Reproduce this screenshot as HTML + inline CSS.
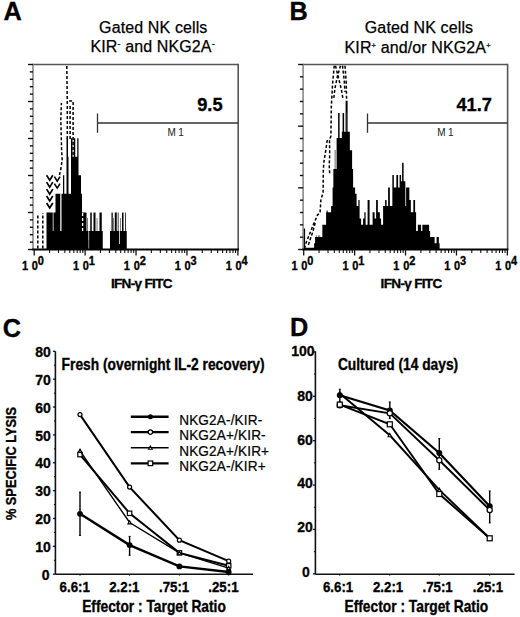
<!DOCTYPE html>
<html><head><meta charset="utf-8"><style>html,body{margin:0;padding:0;background:#fff;}svg{display:block;}text{font-family:"Liberation Sans",sans-serif;}</style></head>
<body><svg width="520" height="617" viewBox="0 0 520 617" font-family="Liberation Sans, sans-serif"><text x="3.6" y="19.9" font-size="25.3" font-weight="bold" stroke="#000" stroke-width="0.3">A</text>
<text x="289.5" y="19.9" font-size="25.3" font-weight="bold" stroke="#000" stroke-width="0.3">B</text>
<text x="2.8" y="336.6" font-size="25.3" font-weight="bold" stroke="#000" stroke-width="0.3">C</text>
<text x="290" y="335.7" font-size="25.3" font-weight="bold" stroke="#000" stroke-width="0.3">D</text>
<text x="153.3" y="32.8" font-size="16" text-anchor="middle" stroke="#000" stroke-width="0.25" letter-spacing="0.12">Gated NK cells</text>
<text x="152.6" y="52.1" font-size="16" text-anchor="middle" stroke="#000" stroke-width="0.25" letter-spacing="0.12">KIR<tspan dy="-5.5" font-size="9">-</tspan><tspan dy="5.5"> and NKG2A</tspan><tspan dy="-5.5" font-size="9">-</tspan></text>
<text x="419.0" y="33.1" font-size="16" text-anchor="middle" stroke="#000" stroke-width="0.25" letter-spacing="0.12">Gated NK cells</text>
<text x="417.6" y="52.7" font-size="16" text-anchor="middle" stroke="#000" stroke-width="0.25" letter-spacing="0.12">KIR<tspan dy="-5" font-size="7.5">+</tspan><tspan dy="5"> and/or NKG2A</tspan><tspan dy="-5" font-size="7.5">+</tspan></text>
<path d="M46.50,249.5 L46.50,249.50 L46.50,212.40 L52.75,212.40 L52.75,230.95 L53.50,230.95 L53.50,212.40 L55.50,212.40 L55.50,193.85 L60.25,193.85 L60.25,230.95 L61.50,230.95 L61.50,193.85 L63.00,193.85 L63.00,175.30 L64.25,175.30 L64.25,193.85 L66.50,193.85 L66.50,138.20 L68.00,138.20 L68.00,156.75 L68.50,156.75 L68.50,193.85 L71.00,193.85 L71.00,138.20 L72.50,138.20 L72.50,156.75 L73.75,156.75 L73.75,138.20 L75.25,138.20 L75.25,156.75 L77.25,156.75 L77.25,138.20 L78.50,138.20 L78.50,175.30 L81.00,175.30 L81.00,193.85 L82.00,193.85 L82.00,212.40 L86.50,212.40 L86.50,230.95 L87.50,230.95 L87.50,217.97 L88.00,217.97 L88.00,230.95 L88.50,230.95 L88.50,240.22 L89.00,240.22 L89.00,230.95 L90.25,230.95 L90.25,212.40 L91.75,212.40 L91.75,230.95 L93.50,230.95 L93.50,212.40 L95.50,212.40 L95.50,230.95 L96.75,230.95 L96.75,217.97 L97.25,217.97 L97.25,230.95 L99.50,230.95 L99.50,212.40 L101.75,212.40 L101.75,230.95 L102.75,230.95 L102.75,249.50 L110.00,249.50 L110.00,230.95 L111.50,230.95 L111.50,212.40 L112.75,212.40 L112.75,230.95 L113.50,230.95 L113.50,217.97 L114.00,217.97 L114.00,230.95 L114.75,230.95 L114.75,212.40 L116.75,212.40 L116.75,230.95 L117.75,230.95 L117.75,212.40 L118.50,212.40 L118.50,230.95 L119.25,230.95 L119.25,243.94 L120.00,243.94 L120.00,230.95 L120.25,230.95 L120.25,217.97 L120.75,217.97 L120.75,230.95 L122.00,230.95 L122.00,212.40 L123.50,212.40 L123.50,230.95 L125.00,230.95 L125.00,212.40 L125.75,212.40 L125.75,230.95 L126.75,230.95 L126.75,249.50 L127.50,249.50 L127.50,249.5 Z" fill="#000"/>
<line x1="33.0" y1="64.5" x2="238.2" y2="64.5" stroke="#555" stroke-width="1.5"/>
<line x1="238.2" y1="63.8" x2="238.2" y2="249.5" stroke="#555" stroke-width="1.6"/>
<line x1="33.0" y1="63.8" x2="33.0" y2="249.5" stroke="#888" stroke-width="1.6"/>
<line x1="32.2" y1="249.5" x2="239.0" y2="249.5" stroke="#000" stroke-width="1.8"/>
<line x1="28.0" y1="249.50" x2="33.0" y2="249.50" stroke="#111" stroke-width="1.4"/>
<line x1="29.8" y1="242.10" x2="33.0" y2="242.10" stroke="#111" stroke-width="1.4"/>
<line x1="29.8" y1="234.70" x2="33.0" y2="234.70" stroke="#111" stroke-width="1.4"/>
<line x1="29.8" y1="227.30" x2="33.0" y2="227.30" stroke="#111" stroke-width="1.4"/>
<line x1="29.8" y1="219.90" x2="33.0" y2="219.90" stroke="#111" stroke-width="1.4"/>
<line x1="28.0" y1="212.50" x2="33.0" y2="212.50" stroke="#111" stroke-width="1.4"/>
<line x1="29.8" y1="205.10" x2="33.0" y2="205.10" stroke="#111" stroke-width="1.4"/>
<line x1="29.8" y1="197.70" x2="33.0" y2="197.70" stroke="#111" stroke-width="1.4"/>
<line x1="29.8" y1="190.30" x2="33.0" y2="190.30" stroke="#111" stroke-width="1.4"/>
<line x1="29.8" y1="182.90" x2="33.0" y2="182.90" stroke="#111" stroke-width="1.4"/>
<line x1="28.0" y1="175.50" x2="33.0" y2="175.50" stroke="#111" stroke-width="1.4"/>
<line x1="29.8" y1="168.10" x2="33.0" y2="168.10" stroke="#111" stroke-width="1.4"/>
<line x1="29.8" y1="160.70" x2="33.0" y2="160.70" stroke="#111" stroke-width="1.4"/>
<line x1="29.8" y1="153.30" x2="33.0" y2="153.30" stroke="#111" stroke-width="1.4"/>
<line x1="29.8" y1="145.90" x2="33.0" y2="145.90" stroke="#111" stroke-width="1.4"/>
<line x1="28.0" y1="138.50" x2="33.0" y2="138.50" stroke="#111" stroke-width="1.4"/>
<line x1="29.8" y1="131.10" x2="33.0" y2="131.10" stroke="#111" stroke-width="1.4"/>
<line x1="29.8" y1="123.70" x2="33.0" y2="123.70" stroke="#111" stroke-width="1.4"/>
<line x1="29.8" y1="116.30" x2="33.0" y2="116.30" stroke="#111" stroke-width="1.4"/>
<line x1="29.8" y1="108.90" x2="33.0" y2="108.90" stroke="#111" stroke-width="1.4"/>
<line x1="28.0" y1="101.50" x2="33.0" y2="101.50" stroke="#111" stroke-width="1.4"/>
<line x1="29.8" y1="94.10" x2="33.0" y2="94.10" stroke="#111" stroke-width="1.4"/>
<line x1="29.8" y1="86.70" x2="33.0" y2="86.70" stroke="#111" stroke-width="1.4"/>
<line x1="29.8" y1="79.30" x2="33.0" y2="79.30" stroke="#111" stroke-width="1.4"/>
<line x1="29.8" y1="71.90" x2="33.0" y2="71.90" stroke="#111" stroke-width="1.4"/>
<line x1="28.0" y1="64.50" x2="33.0" y2="64.50" stroke="#111" stroke-width="1.4"/>
<line x1="34.20" y1="249.5" x2="34.20" y2="255.5" stroke="#111" stroke-width="1.3"/>
<line x1="49.53" y1="249.5" x2="49.53" y2="253.0" stroke="#111" stroke-width="1.1"/>
<line x1="58.50" y1="249.5" x2="58.50" y2="253.0" stroke="#111" stroke-width="1.1"/>
<line x1="64.86" y1="249.5" x2="64.86" y2="253.0" stroke="#111" stroke-width="1.1"/>
<line x1="69.79" y1="249.5" x2="69.79" y2="253.0" stroke="#111" stroke-width="1.1"/>
<line x1="73.82" y1="249.5" x2="73.82" y2="253.0" stroke="#111" stroke-width="1.1"/>
<line x1="77.23" y1="249.5" x2="77.23" y2="253.0" stroke="#111" stroke-width="1.1"/>
<line x1="80.19" y1="249.5" x2="80.19" y2="253.0" stroke="#111" stroke-width="1.1"/>
<line x1="82.79" y1="249.5" x2="82.79" y2="253.0" stroke="#111" stroke-width="1.1"/>
<text transform="translate(22.00,269.80) scale(1,1.1)" font-size="11" font-weight="bold" stroke="#000" stroke-width="0.3">1</text>
<text transform="translate(34.90,269.80) scale(1,1.1)" font-size="11" font-weight="bold" stroke="#000" stroke-width="0.3" text-anchor="middle">0</text>
<text transform="translate(37.80,265.30) scale(1,1.1)" font-size="11" font-weight="bold" stroke="#000" stroke-width="0.3">0</text>
<line x1="85.12" y1="249.5" x2="85.12" y2="255.5" stroke="#111" stroke-width="1.3"/>
<line x1="100.45" y1="249.5" x2="100.45" y2="253.0" stroke="#111" stroke-width="1.1"/>
<line x1="109.42" y1="249.5" x2="109.42" y2="253.0" stroke="#111" stroke-width="1.1"/>
<line x1="115.78" y1="249.5" x2="115.78" y2="253.0" stroke="#111" stroke-width="1.1"/>
<line x1="120.71" y1="249.5" x2="120.71" y2="253.0" stroke="#111" stroke-width="1.1"/>
<line x1="124.74" y1="249.5" x2="124.74" y2="253.0" stroke="#111" stroke-width="1.1"/>
<line x1="128.15" y1="249.5" x2="128.15" y2="253.0" stroke="#111" stroke-width="1.1"/>
<line x1="131.11" y1="249.5" x2="131.11" y2="253.0" stroke="#111" stroke-width="1.1"/>
<line x1="133.71" y1="249.5" x2="133.71" y2="253.0" stroke="#111" stroke-width="1.1"/>
<text transform="translate(72.92,269.80) scale(1,1.1)" font-size="11" font-weight="bold" stroke="#000" stroke-width="0.3">1</text>
<text transform="translate(85.82,269.80) scale(1,1.1)" font-size="11" font-weight="bold" stroke="#000" stroke-width="0.3" text-anchor="middle">0</text>
<text transform="translate(88.72,265.30) scale(1,1.1)" font-size="11" font-weight="bold" stroke="#000" stroke-width="0.3">1</text>
<line x1="136.04" y1="249.5" x2="136.04" y2="255.5" stroke="#111" stroke-width="1.3"/>
<line x1="151.37" y1="249.5" x2="151.37" y2="253.0" stroke="#111" stroke-width="1.1"/>
<line x1="160.34" y1="249.5" x2="160.34" y2="253.0" stroke="#111" stroke-width="1.1"/>
<line x1="166.70" y1="249.5" x2="166.70" y2="253.0" stroke="#111" stroke-width="1.1"/>
<line x1="171.63" y1="249.5" x2="171.63" y2="253.0" stroke="#111" stroke-width="1.1"/>
<line x1="175.66" y1="249.5" x2="175.66" y2="253.0" stroke="#111" stroke-width="1.1"/>
<line x1="179.07" y1="249.5" x2="179.07" y2="253.0" stroke="#111" stroke-width="1.1"/>
<line x1="182.03" y1="249.5" x2="182.03" y2="253.0" stroke="#111" stroke-width="1.1"/>
<line x1="184.63" y1="249.5" x2="184.63" y2="253.0" stroke="#111" stroke-width="1.1"/>
<text transform="translate(123.84,269.80) scale(1,1.1)" font-size="11" font-weight="bold" stroke="#000" stroke-width="0.3">1</text>
<text transform="translate(136.74,269.80) scale(1,1.1)" font-size="11" font-weight="bold" stroke="#000" stroke-width="0.3" text-anchor="middle">0</text>
<text transform="translate(139.64,265.30) scale(1,1.1)" font-size="11" font-weight="bold" stroke="#000" stroke-width="0.3">2</text>
<line x1="186.96" y1="249.5" x2="186.96" y2="255.5" stroke="#111" stroke-width="1.3"/>
<line x1="202.29" y1="249.5" x2="202.29" y2="253.0" stroke="#111" stroke-width="1.1"/>
<line x1="211.26" y1="249.5" x2="211.26" y2="253.0" stroke="#111" stroke-width="1.1"/>
<line x1="217.62" y1="249.5" x2="217.62" y2="253.0" stroke="#111" stroke-width="1.1"/>
<line x1="222.55" y1="249.5" x2="222.55" y2="253.0" stroke="#111" stroke-width="1.1"/>
<line x1="226.58" y1="249.5" x2="226.58" y2="253.0" stroke="#111" stroke-width="1.1"/>
<line x1="229.99" y1="249.5" x2="229.99" y2="253.0" stroke="#111" stroke-width="1.1"/>
<line x1="232.95" y1="249.5" x2="232.95" y2="253.0" stroke="#111" stroke-width="1.1"/>
<line x1="235.55" y1="249.5" x2="235.55" y2="253.0" stroke="#111" stroke-width="1.1"/>
<text transform="translate(174.76,269.80) scale(1,1.1)" font-size="11" font-weight="bold" stroke="#000" stroke-width="0.3">1</text>
<text transform="translate(187.66,269.80) scale(1,1.1)" font-size="11" font-weight="bold" stroke="#000" stroke-width="0.3" text-anchor="middle">0</text>
<text transform="translate(190.56,265.30) scale(1,1.1)" font-size="11" font-weight="bold" stroke="#000" stroke-width="0.3">3</text>
<line x1="237.88" y1="249.5" x2="237.88" y2="255.5" stroke="#111" stroke-width="1.3"/>
<text transform="translate(225.68,269.80) scale(1,1.1)" font-size="11" font-weight="bold" stroke="#000" stroke-width="0.3">1</text>
<text transform="translate(238.58,269.80) scale(1,1.1)" font-size="11" font-weight="bold" stroke="#000" stroke-width="0.3" text-anchor="middle">0</text>
<text transform="translate(241.48,265.30) scale(1,1.1)" font-size="11" font-weight="bold" stroke="#000" stroke-width="0.3">4</text>
<line x1="97.5" y1="123" x2="238.2" y2="123" stroke="#333" stroke-width="1.3"/>
<line x1="97.5" y1="113.5" x2="97.5" y2="132.8" stroke="#333" stroke-width="1.3"/>
<text transform="translate(167.45,136.20) scale(1,1.12)" font-size="10" letter-spacing="2.6" fill="#222">M1</text>
<text transform="translate(222.60,110.60) scale(1,1.05)" font-size="18.3" font-weight="bold" stroke="#000" stroke-width="0.3" text-anchor="end">9.5</text>
<text x="110.9" y="287.9" font-size="13.6" font-weight="bold" letter-spacing="-0.7" stroke="#000" stroke-width="0.3">IFN-γ FITC</text>
<path d="M37.8,248.5 V213.5" fill="none" stroke="#000" stroke-width="1.5" stroke-dasharray="3,2"/>
<path d="M42.8,248.5 V213" fill="none" stroke="#000" stroke-width="1.5" stroke-dasharray="3,2"/>
<path d="M59.5,175 L61,168 L62.2,160 L61.6,150 L60.8,120 L61.4,102.9" fill="none" stroke="#000" stroke-width="1.5" stroke-dasharray="3,2"/>
<path d="M67.3,139 L67.3,104 L66.8,66" fill="none" stroke="#000" stroke-width="1.5" stroke-dasharray="3,2"/>
<path d="M70.1,139 V105.8" fill="none" stroke="#000" stroke-width="1.5" stroke-dasharray="3,2"/>
<path d="M73.1,155 V101 L68.5,101" fill="none" stroke="#000" stroke-width="1.5" stroke-dasharray="3,2"/>
<path d="M82.6,231 V213" fill="none" stroke="#fff" stroke-width="1.3" stroke-dasharray="3,2"/>
<rect x="88.3" y="231.5" width="0.9" height="17" fill="#999"/>
<path d="M46.6,175.2 L49.7,180.2 L52.8,175.2" fill="none" stroke="#000" stroke-width="1.7"/>
<path d="M54.4,176.7 L57.2,181.2 L60.0,176.7" fill="none" stroke="#000" stroke-width="1.6"/>
<path d="M46.6,182.1 L49.7,187.1 L52.8,182.1" fill="none" stroke="#000" stroke-width="1.7"/>
<path d="M54.4,183.6 L57.2,188.1 L60.0,183.6" fill="none" stroke="#000" stroke-width="1.6"/>
<path d="M46.6,189.1 L49.7,194.1 L52.8,189.1" fill="none" stroke="#000" stroke-width="1.7"/>
<path d="M46.6,196.0 L49.7,201.0 L52.8,196.0" fill="none" stroke="#000" stroke-width="1.7"/>
<path d="M46.6,203.0 L49.7,208.0 L52.8,203.0" fill="none" stroke="#000" stroke-width="1.7"/>
<path d="M303.10,249.5 L303.10,249.50 L303.10,228.42 L305.10,228.42 L305.10,247.64 L314.10,247.64 L314.10,243.30 L315.10,243.30 L315.10,237.10 L316.60,237.10 L316.60,235.24 L317.10,235.24 L317.10,237.10 L318.10,237.10 L318.10,235.24 L318.60,235.24 L318.60,237.10 L319.60,237.10 L319.60,235.24 L320.10,235.24 L320.10,237.10 L322.35,237.10 L322.35,224.70 L326.10,224.70 L326.10,212.30 L326.60,212.30 L326.60,210.44 L327.60,210.44 L327.60,212.30 L331.10,212.30 L331.10,206.10 L332.60,206.10 L332.60,187.50 L333.35,187.50 L333.35,168.90 L336.60,168.90 L336.60,137.90 L338.10,137.90 L338.10,113.10 L339.60,113.10 L339.60,137.90 L341.85,137.90 L341.85,131.70 L342.60,131.70 L342.60,113.10 L344.10,113.10 L344.10,131.70 L345.60,131.70 L345.60,100.70 L347.60,100.70 L347.60,131.70 L349.85,131.70 L349.85,150.30 L352.10,150.30 L352.10,168.90 L353.10,168.90 L353.10,187.50 L355.10,187.50 L355.10,193.70 L356.60,193.70 L356.60,206.10 L358.35,206.10 L358.35,199.90 L359.60,199.90 L359.60,218.50 L361.10,218.50 L361.10,224.70 L363.10,224.70 L363.10,218.50 L364.35,218.50 L364.35,212.30 L365.60,212.30 L365.60,224.70 L367.60,224.70 L367.60,199.90 L369.60,199.90 L369.60,224.70 L372.60,224.70 L372.60,212.30 L374.60,212.30 L374.60,218.50 L376.10,218.50 L376.10,199.90 L377.85,199.90 L377.85,212.30 L379.85,212.30 L379.85,218.50 L381.10,218.50 L381.10,224.70 L383.10,224.70 L383.10,206.10 L385.10,206.10 L385.10,199.90 L386.60,199.90 L386.60,206.10 L388.10,206.10 L388.10,187.50 L389.85,187.50 L389.85,206.10 L392.35,206.10 L392.35,175.10 L393.85,175.10 L393.85,187.50 L396.35,187.50 L396.35,175.10 L398.10,175.10 L398.10,187.50 L399.60,187.50 L399.60,175.10 L401.10,175.10 L401.10,181.30 L402.10,181.30 L402.10,162.70 L403.60,162.70 L403.60,181.30 L405.35,181.30 L405.35,206.10 L406.10,206.10 L406.10,187.50 L409.35,187.50 L409.35,199.90 L410.85,199.90 L410.85,212.30 L413.35,212.30 L413.35,199.90 L415.10,199.90 L415.10,212.30 L416.10,212.30 L416.10,230.90 L417.85,230.90 L417.85,224.70 L421.10,224.70 L421.10,230.90 L422.35,230.90 L422.35,224.70 L429.10,224.70 L429.10,230.90 L430.10,230.90 L430.10,237.10 L434.60,237.10 L434.60,243.30 L436.60,243.30 L436.60,237.10 L438.85,237.10 L438.85,243.30 L439.60,243.30 L439.60,249.50 L440.35,249.50 L440.35,249.5 Z" fill="#000"/>
<line x1="303.1" y1="64.5" x2="507.6" y2="64.5" stroke="#555" stroke-width="1.5"/>
<line x1="507.6" y1="63.8" x2="507.6" y2="249.5" stroke="#555" stroke-width="1.6"/>
<line x1="303.1" y1="63.8" x2="303.1" y2="249.5" stroke="#888" stroke-width="1.6"/>
<line x1="302.3" y1="249.5" x2="508.40000000000003" y2="249.5" stroke="#000" stroke-width="1.8"/>
<line x1="298.1" y1="249.50" x2="303.1" y2="249.50" stroke="#111" stroke-width="1.4"/>
<line x1="299.90000000000003" y1="237.17" x2="303.1" y2="237.17" stroke="#111" stroke-width="1.4"/>
<line x1="299.90000000000003" y1="224.83" x2="303.1" y2="224.83" stroke="#111" stroke-width="1.4"/>
<line x1="299.90000000000003" y1="212.50" x2="303.1" y2="212.50" stroke="#111" stroke-width="1.4"/>
<line x1="299.90000000000003" y1="200.17" x2="303.1" y2="200.17" stroke="#111" stroke-width="1.4"/>
<line x1="298.1" y1="187.83" x2="303.1" y2="187.83" stroke="#111" stroke-width="1.4"/>
<line x1="299.90000000000003" y1="175.50" x2="303.1" y2="175.50" stroke="#111" stroke-width="1.4"/>
<line x1="299.90000000000003" y1="163.17" x2="303.1" y2="163.17" stroke="#111" stroke-width="1.4"/>
<line x1="299.90000000000003" y1="150.83" x2="303.1" y2="150.83" stroke="#111" stroke-width="1.4"/>
<line x1="299.90000000000003" y1="138.50" x2="303.1" y2="138.50" stroke="#111" stroke-width="1.4"/>
<line x1="298.1" y1="126.17" x2="303.1" y2="126.17" stroke="#111" stroke-width="1.4"/>
<line x1="299.90000000000003" y1="113.83" x2="303.1" y2="113.83" stroke="#111" stroke-width="1.4"/>
<line x1="299.90000000000003" y1="101.50" x2="303.1" y2="101.50" stroke="#111" stroke-width="1.4"/>
<line x1="299.90000000000003" y1="89.17" x2="303.1" y2="89.17" stroke="#111" stroke-width="1.4"/>
<line x1="299.90000000000003" y1="76.83" x2="303.1" y2="76.83" stroke="#111" stroke-width="1.4"/>
<line x1="298.1" y1="64.50" x2="303.1" y2="64.50" stroke="#111" stroke-width="1.4"/>
<line x1="303.70" y1="249.5" x2="303.70" y2="255.5" stroke="#111" stroke-width="1.3"/>
<line x1="319.03" y1="249.5" x2="319.03" y2="253.0" stroke="#111" stroke-width="1.1"/>
<line x1="328.00" y1="249.5" x2="328.00" y2="253.0" stroke="#111" stroke-width="1.1"/>
<line x1="334.36" y1="249.5" x2="334.36" y2="253.0" stroke="#111" stroke-width="1.1"/>
<line x1="339.29" y1="249.5" x2="339.29" y2="253.0" stroke="#111" stroke-width="1.1"/>
<line x1="343.32" y1="249.5" x2="343.32" y2="253.0" stroke="#111" stroke-width="1.1"/>
<line x1="346.73" y1="249.5" x2="346.73" y2="253.0" stroke="#111" stroke-width="1.1"/>
<line x1="349.69" y1="249.5" x2="349.69" y2="253.0" stroke="#111" stroke-width="1.1"/>
<line x1="352.29" y1="249.5" x2="352.29" y2="253.0" stroke="#111" stroke-width="1.1"/>
<text transform="translate(291.50,269.80) scale(1,1.1)" font-size="11" font-weight="bold" stroke="#000" stroke-width="0.3">1</text>
<text transform="translate(304.40,269.80) scale(1,1.1)" font-size="11" font-weight="bold" stroke="#000" stroke-width="0.3" text-anchor="middle">0</text>
<text transform="translate(307.30,265.30) scale(1,1.1)" font-size="11" font-weight="bold" stroke="#000" stroke-width="0.3">0</text>
<line x1="354.62" y1="249.5" x2="354.62" y2="255.5" stroke="#111" stroke-width="1.3"/>
<line x1="369.95" y1="249.5" x2="369.95" y2="253.0" stroke="#111" stroke-width="1.1"/>
<line x1="378.92" y1="249.5" x2="378.92" y2="253.0" stroke="#111" stroke-width="1.1"/>
<line x1="385.28" y1="249.5" x2="385.28" y2="253.0" stroke="#111" stroke-width="1.1"/>
<line x1="390.21" y1="249.5" x2="390.21" y2="253.0" stroke="#111" stroke-width="1.1"/>
<line x1="394.24" y1="249.5" x2="394.24" y2="253.0" stroke="#111" stroke-width="1.1"/>
<line x1="397.65" y1="249.5" x2="397.65" y2="253.0" stroke="#111" stroke-width="1.1"/>
<line x1="400.61" y1="249.5" x2="400.61" y2="253.0" stroke="#111" stroke-width="1.1"/>
<line x1="403.21" y1="249.5" x2="403.21" y2="253.0" stroke="#111" stroke-width="1.1"/>
<text transform="translate(342.42,269.80) scale(1,1.1)" font-size="11" font-weight="bold" stroke="#000" stroke-width="0.3">1</text>
<text transform="translate(355.32,269.80) scale(1,1.1)" font-size="11" font-weight="bold" stroke="#000" stroke-width="0.3" text-anchor="middle">0</text>
<text transform="translate(358.22,265.30) scale(1,1.1)" font-size="11" font-weight="bold" stroke="#000" stroke-width="0.3">1</text>
<line x1="405.54" y1="249.5" x2="405.54" y2="255.5" stroke="#111" stroke-width="1.3"/>
<line x1="420.87" y1="249.5" x2="420.87" y2="253.0" stroke="#111" stroke-width="1.1"/>
<line x1="429.84" y1="249.5" x2="429.84" y2="253.0" stroke="#111" stroke-width="1.1"/>
<line x1="436.20" y1="249.5" x2="436.20" y2="253.0" stroke="#111" stroke-width="1.1"/>
<line x1="441.13" y1="249.5" x2="441.13" y2="253.0" stroke="#111" stroke-width="1.1"/>
<line x1="445.16" y1="249.5" x2="445.16" y2="253.0" stroke="#111" stroke-width="1.1"/>
<line x1="448.57" y1="249.5" x2="448.57" y2="253.0" stroke="#111" stroke-width="1.1"/>
<line x1="451.53" y1="249.5" x2="451.53" y2="253.0" stroke="#111" stroke-width="1.1"/>
<line x1="454.13" y1="249.5" x2="454.13" y2="253.0" stroke="#111" stroke-width="1.1"/>
<text transform="translate(393.34,269.80) scale(1,1.1)" font-size="11" font-weight="bold" stroke="#000" stroke-width="0.3">1</text>
<text transform="translate(406.24,269.80) scale(1,1.1)" font-size="11" font-weight="bold" stroke="#000" stroke-width="0.3" text-anchor="middle">0</text>
<text transform="translate(409.14,265.30) scale(1,1.1)" font-size="11" font-weight="bold" stroke="#000" stroke-width="0.3">2</text>
<line x1="456.46" y1="249.5" x2="456.46" y2="255.5" stroke="#111" stroke-width="1.3"/>
<line x1="471.79" y1="249.5" x2="471.79" y2="253.0" stroke="#111" stroke-width="1.1"/>
<line x1="480.76" y1="249.5" x2="480.76" y2="253.0" stroke="#111" stroke-width="1.1"/>
<line x1="487.12" y1="249.5" x2="487.12" y2="253.0" stroke="#111" stroke-width="1.1"/>
<line x1="492.05" y1="249.5" x2="492.05" y2="253.0" stroke="#111" stroke-width="1.1"/>
<line x1="496.08" y1="249.5" x2="496.08" y2="253.0" stroke="#111" stroke-width="1.1"/>
<line x1="499.49" y1="249.5" x2="499.49" y2="253.0" stroke="#111" stroke-width="1.1"/>
<line x1="502.45" y1="249.5" x2="502.45" y2="253.0" stroke="#111" stroke-width="1.1"/>
<line x1="505.05" y1="249.5" x2="505.05" y2="253.0" stroke="#111" stroke-width="1.1"/>
<text transform="translate(444.26,269.80) scale(1,1.1)" font-size="11" font-weight="bold" stroke="#000" stroke-width="0.3">1</text>
<text transform="translate(457.16,269.80) scale(1,1.1)" font-size="11" font-weight="bold" stroke="#000" stroke-width="0.3" text-anchor="middle">0</text>
<text transform="translate(460.06,265.30) scale(1,1.1)" font-size="11" font-weight="bold" stroke="#000" stroke-width="0.3">3</text>
<line x1="507.38" y1="249.5" x2="507.38" y2="255.5" stroke="#111" stroke-width="1.3"/>
<text transform="translate(495.18,269.80) scale(1,1.1)" font-size="11" font-weight="bold" stroke="#000" stroke-width="0.3">1</text>
<text transform="translate(508.08,269.80) scale(1,1.1)" font-size="11" font-weight="bold" stroke="#000" stroke-width="0.3" text-anchor="middle">0</text>
<text transform="translate(510.98,265.30) scale(1,1.1)" font-size="11" font-weight="bold" stroke="#000" stroke-width="0.3">4</text>
<line x1="367.5" y1="123" x2="507.6" y2="123" stroke="#333" stroke-width="1.3"/>
<line x1="367.5" y1="113.5" x2="367.5" y2="132.8" stroke="#333" stroke-width="1.3"/>
<text transform="translate(437.15,136.20) scale(1,1.12)" font-size="10" letter-spacing="2.6" fill="#222">M1</text>
<text transform="translate(492.00,110.60) scale(1,1.05)" font-size="18.3" font-weight="bold" stroke="#000" stroke-width="0.3" text-anchor="end">41.7</text>
<text x="380.6" y="287.9" font-size="13.6" font-weight="bold" letter-spacing="-0.7" stroke="#000" stroke-width="0.3">IFN-γ FITC</text>
<rect x="334.6" y="150" width="1.1" height="19" fill="#777"/>
<rect x="345.3" y="112.5" width="1.0" height="19.5" fill="#888"/>
<path d="M334.2,65.7 L332.5,85 L331.3,107 L330.9,136 L329.5,140 L329.7,155 L329.2,165 L329.7,174" fill="none" stroke="#000" stroke-width="1.5" stroke-dasharray="3,2"/>
<path d="M327.3,140 L326,148.7 L323.8,162.6 L323.3,171 L323.1,192.5 L320.9,199.8 L320,213.2 L317.6,214.8 L312.7,226.2 L309.5,234.3 L306.2,242.4 L304.6,248" fill="none" stroke="#000" stroke-width="1.5" stroke-dasharray="3,2"/>
<path d="M315.2,223 L312.7,232 L310,240 L308,246" fill="none" stroke="#000" stroke-width="1.5" stroke-dasharray="3,2"/>
<path d="M345.0,65.7 L346.2,82 L346.6,100" fill="none" stroke="#000" stroke-width="1.5" stroke-dasharray="3,2"/>
<path d="M342.5,65.7 L344.2,80 L345.0,92" fill="none" stroke="#000" stroke-width="1.5" stroke-dasharray="3,2"/>
<path d="M335.5,65.7 L338.5,78 L341.5,90 L342.8,98" fill="none" stroke="#000" stroke-width="1.5" stroke-dasharray="3,2"/>
<path d="M340.5,65.7 L337.5,76 L335,88 L333.8,98" fill="none" stroke="#000" stroke-width="1.5" stroke-dasharray="3,2"/>
<line x1="55.4" y1="351.3" x2="55.4" y2="574.2" stroke="#111" stroke-width="1.6"/>
<line x1="55.4" y1="574.2" x2="253" y2="574.2" stroke="#111" stroke-width="1.6"/>
<line x1="52.9" y1="574.20" x2="55.4" y2="574.20" stroke="#111" stroke-width="1.3"/>
<line x1="52.9" y1="546.34" x2="55.4" y2="546.34" stroke="#111" stroke-width="1.3"/>
<line x1="52.9" y1="518.48" x2="55.4" y2="518.48" stroke="#111" stroke-width="1.3"/>
<line x1="52.9" y1="490.62" x2="55.4" y2="490.62" stroke="#111" stroke-width="1.3"/>
<line x1="52.9" y1="462.76" x2="55.4" y2="462.76" stroke="#111" stroke-width="1.3"/>
<line x1="52.9" y1="434.90" x2="55.4" y2="434.90" stroke="#111" stroke-width="1.3"/>
<line x1="52.9" y1="407.04" x2="55.4" y2="407.04" stroke="#111" stroke-width="1.3"/>
<line x1="52.9" y1="379.18" x2="55.4" y2="379.18" stroke="#111" stroke-width="1.3"/>
<line x1="52.9" y1="351.32" x2="55.4" y2="351.32" stroke="#111" stroke-width="1.3"/>
<text transform="translate(50.80,356.71) scale(1,1.08)" font-size="14" font-weight="bold" stroke="#000" stroke-width="0.3" text-anchor="end">80</text>
<text transform="translate(50.90,384.91) scale(1,1.08)" font-size="14" font-weight="bold" stroke="#000" stroke-width="0.3" text-anchor="end">70</text>
<text transform="translate(50.80,412.91) scale(1,1.08)" font-size="14" font-weight="bold" stroke="#000" stroke-width="0.3" text-anchor="end">60</text>
<text transform="translate(50.70,440.51) scale(1,1.08)" font-size="14" font-weight="bold" stroke="#000" stroke-width="0.3" text-anchor="end">50</text>
<text transform="translate(50.70,468.21) scale(1,1.08)" font-size="14" font-weight="bold" stroke="#000" stroke-width="0.3" text-anchor="end">40</text>
<text transform="translate(50.70,496.01) scale(1,1.08)" font-size="14" font-weight="bold" stroke="#000" stroke-width="0.3" text-anchor="end">30</text>
<text transform="translate(50.70,523.81) scale(1,1.08)" font-size="14" font-weight="bold" stroke="#000" stroke-width="0.3" text-anchor="end">20</text>
<text transform="translate(50.70,551.61) scale(1,1.08)" font-size="14" font-weight="bold" stroke="#000" stroke-width="0.3" text-anchor="end">10</text>
<text transform="translate(49.50,579.71) scale(1,1.08)" font-size="14" font-weight="bold" stroke="#000" stroke-width="0.3" text-anchor="end">0</text>
<line x1="53.9" y1="560.27" x2="55.4" y2="560.27" stroke="#111" stroke-width="1"/>
<line x1="53.9" y1="532.41" x2="55.4" y2="532.41" stroke="#111" stroke-width="1"/>
<line x1="53.9" y1="504.55" x2="55.4" y2="504.55" stroke="#111" stroke-width="1"/>
<line x1="53.9" y1="476.69" x2="55.4" y2="476.69" stroke="#111" stroke-width="1"/>
<line x1="53.9" y1="448.83" x2="55.4" y2="448.83" stroke="#111" stroke-width="1"/>
<line x1="53.9" y1="420.97" x2="55.4" y2="420.97" stroke="#111" stroke-width="1"/>
<line x1="53.9" y1="393.11" x2="55.4" y2="393.11" stroke="#111" stroke-width="1"/>
<line x1="53.9" y1="365.25" x2="55.4" y2="365.25" stroke="#111" stroke-width="1"/>
<line x1="80" y1="574.2" x2="80" y2="575.7" stroke="#111" stroke-width="1"/>
<text transform="translate(74.70,592.10) scale(1,1.14)" font-size="13.3" font-weight="bold" stroke="#000" stroke-width="0.3" text-anchor="middle">6.6:1</text>
<line x1="129.6" y1="574.2" x2="129.6" y2="575.7" stroke="#111" stroke-width="1"/>
<text transform="translate(124.30,592.10) scale(1,1.14)" font-size="13.3" font-weight="bold" stroke="#000" stroke-width="0.3" text-anchor="middle">2.2:1</text>
<line x1="179.4" y1="574.2" x2="179.4" y2="575.7" stroke="#111" stroke-width="1"/>
<text transform="translate(174.10,592.10) scale(1,1.14)" font-size="13.3" font-weight="bold" stroke="#000" stroke-width="0.3" text-anchor="middle">.75:1</text>
<line x1="228.7" y1="574.2" x2="228.7" y2="575.7" stroke="#111" stroke-width="1"/>
<text transform="translate(223.40,592.10) scale(1,1.14)" font-size="13.3" font-weight="bold" stroke="#000" stroke-width="0.3" text-anchor="middle">.25:1</text>
<text transform="translate(61.60,370.20) scale(1,1.14)" font-size="13.8" font-weight="bold" stroke="#000" stroke-width="0.3">Fresh (overnight IL-2 recovery)</text>
<text transform="translate(154.00,612.20) scale(1,1.14)" font-size="13.8" font-weight="bold" stroke="#000" stroke-width="0.3" text-anchor="middle">Effector : Target Ratio</text>
<polyline points="80,414.6 129.6,487.1 179.4,540.2 228.7,561.2" fill="none" stroke="#000" stroke-width="2.0"/>
<circle cx="80" cy="414.6" r="2.0" fill="#fff" stroke="#000" stroke-width="1.2"/>
<circle cx="129.6" cy="487.1" r="2.0" fill="#fff" stroke="#000" stroke-width="1.2"/>
<circle cx="179.4" cy="540.2" r="2.0" fill="#fff" stroke="#000" stroke-width="1.2"/>
<circle cx="228.7" cy="561.2" r="2.0" fill="#fff" stroke="#000" stroke-width="1.2"/>
<polyline points="80,454.6 129.6,513.3 179.4,552.9 228.7,565.8" fill="none" stroke="#000" stroke-width="2.0"/>
<rect x="77.8" y="452.40000000000003" width="4.4" height="4.4" fill="#fff" stroke="#000" stroke-width="1.2"/>
<rect x="127.39999999999999" y="511.09999999999997" width="4.4" height="4.4" fill="#fff" stroke="#000" stroke-width="1.2"/>
<rect x="177.20000000000002" y="550.6999999999999" width="4.4" height="4.4" fill="#fff" stroke="#000" stroke-width="1.2"/>
<rect x="226.5" y="563.5999999999999" width="4.4" height="4.4" fill="#fff" stroke="#000" stroke-width="1.2"/>
<polyline points="80,450.8 129.6,522.5 179.4,552.9 228.7,568.1" fill="none" stroke="#000" stroke-width="1.4"/>
<path d="M80,449.1 L81.7,452.16 L78.3,452.16 Z" fill="#fff" stroke="#000" stroke-width="1.1"/>
<path d="M129.6,520.8 L131.29999999999998,523.86 L127.89999999999999,523.86 Z" fill="#fff" stroke="#000" stroke-width="1.1"/>
<path d="M179.4,551.1999999999999 L181.1,554.26 L177.70000000000002,554.26 Z" fill="#fff" stroke="#000" stroke-width="1.1"/>
<path d="M228.7,566.4 L230.39999999999998,569.46 L227.0,569.46 Z" fill="#fff" stroke="#000" stroke-width="1.1"/>
<polyline points="80,513.8 129.6,545.1 179.4,566.4 228.7,571.9" fill="none" stroke="#000" stroke-width="2.5"/>
<line x1="80" y1="492.1" x2="80" y2="535.4" stroke="#000" stroke-width="1.4"/>
<line x1="79" y1="492.1" x2="81" y2="492.1" stroke="#000" stroke-width="1"/>
<line x1="79" y1="535.4" x2="81" y2="535.4" stroke="#000" stroke-width="1"/>
<line x1="129.6" y1="536.4" x2="129.6" y2="555.3" stroke="#000" stroke-width="1.4"/>
<line x1="128.6" y1="536.4" x2="130.6" y2="536.4" stroke="#000" stroke-width="1"/>
<line x1="128.6" y1="555.3" x2="130.6" y2="555.3" stroke="#000" stroke-width="1"/>
<circle cx="80" cy="513.8" r="2.9" fill="#000"/>
<circle cx="129.6" cy="545.1" r="2.9" fill="#000"/>
<circle cx="179.4" cy="566.4" r="2.9" fill="#000"/>
<circle cx="228.7" cy="571.9" r="2.9" fill="#000"/>
<line x1="130.8" y1="416.8" x2="168.6" y2="416.8" stroke="#000" stroke-width="2.4"/>
<circle cx="150.4" cy="416.8" r="2.5" fill="#000"/>
<text transform="translate(179.20,424.50) scale(1,1.12)" font-size="13.6" letter-spacing="0.15" stroke="#000" stroke-width="0.2">NKG2A-/KIR-</text>
<line x1="130.8" y1="432.1" x2="168.6" y2="432.1" stroke="#000" stroke-width="2.3"/>
<circle cx="150.4" cy="432.1" r="2.2" fill="#fff" stroke="#000" stroke-width="1.2"/>
<text transform="translate(179.20,439.60) scale(1,1.12)" font-size="13.6" letter-spacing="0.15" stroke="#000" stroke-width="0.2">NKG2A+/KIR-</text>
<line x1="130.8" y1="447.8" x2="168.6" y2="447.8" stroke="#000" stroke-width="1.6"/>
<path d="M150.4,445.90000000000003 L152.3,449.32 L148.5,449.32 Z" fill="#fff" stroke="#000" stroke-width="1.1"/>
<text transform="translate(179.20,455.50) scale(1,1.12)" font-size="13.6" letter-spacing="0.15" stroke="#000" stroke-width="0.2">NKG2A+/KIR+</text>
<line x1="130.8" y1="463.3" x2="168.6" y2="463.3" stroke="#000" stroke-width="2.3"/>
<rect x="148.1" y="461.0" width="4.6" height="4.6" fill="#fff" stroke="#000" stroke-width="1.2"/>
<text transform="translate(179.20,471.40) scale(1,1.12)" font-size="13.6" letter-spacing="0.15" stroke="#000" stroke-width="0.2">NKG2A-/KIR+</text>
<line x1="315.4" y1="351.3" x2="315.4" y2="574.2" stroke="#111" stroke-width="1.6"/>
<line x1="315.4" y1="574.2" x2="514.5" y2="574.2" stroke="#111" stroke-width="1.6"/>
<line x1="312.9" y1="573.85" x2="315.4" y2="573.85" stroke="#111" stroke-width="1.3"/>
<line x1="312.9" y1="529.45" x2="315.4" y2="529.45" stroke="#111" stroke-width="1.3"/>
<line x1="312.9" y1="485.05" x2="315.4" y2="485.05" stroke="#111" stroke-width="1.3"/>
<line x1="312.9" y1="440.65" x2="315.4" y2="440.65" stroke="#111" stroke-width="1.3"/>
<line x1="312.9" y1="396.25" x2="315.4" y2="396.25" stroke="#111" stroke-width="1.3"/>
<line x1="312.9" y1="351.85" x2="315.4" y2="351.85" stroke="#111" stroke-width="1.3"/>
<text transform="translate(314.50,356.01) scale(1,1.05)" font-size="14" font-weight="bold" stroke="#000" stroke-width="0.3" text-anchor="end">100</text>
<text transform="translate(312.70,400.51) scale(1,1.05)" font-size="14" font-weight="bold" stroke="#000" stroke-width="0.3" text-anchor="end">80</text>
<text transform="translate(312.70,444.66) scale(1,1.05)" font-size="14" font-weight="bold" stroke="#000" stroke-width="0.3" text-anchor="end">60</text>
<text transform="translate(312.70,488.06) scale(1,1.05)" font-size="14" font-weight="bold" stroke="#000" stroke-width="0.3" text-anchor="end">40</text>
<text transform="translate(312.70,532.46) scale(1,1.05)" font-size="14" font-weight="bold" stroke="#000" stroke-width="0.3" text-anchor="end">20</text>
<text transform="translate(309.90,577.06) scale(1,1.05)" font-size="14" font-weight="bold" stroke="#000" stroke-width="0.3" text-anchor="end">0</text>
<line x1="313.9" y1="551.65" x2="315.4" y2="551.65" stroke="#111" stroke-width="1"/>
<line x1="313.9" y1="507.25" x2="315.4" y2="507.25" stroke="#111" stroke-width="1"/>
<line x1="313.9" y1="462.85" x2="315.4" y2="462.85" stroke="#111" stroke-width="1"/>
<line x1="313.9" y1="418.45" x2="315.4" y2="418.45" stroke="#111" stroke-width="1"/>
<line x1="313.9" y1="374.05" x2="315.4" y2="374.05" stroke="#111" stroke-width="1"/>
<line x1="339.8" y1="574.2" x2="339.8" y2="575.7" stroke="#111" stroke-width="1"/>
<text transform="translate(338.10,592.10) scale(1,1.14)" font-size="13.3" font-weight="bold" stroke="#000" stroke-width="0.3" text-anchor="middle">6.6:1</text>
<line x1="389.8" y1="574.2" x2="389.8" y2="575.7" stroke="#111" stroke-width="1"/>
<text transform="translate(388.10,592.10) scale(1,1.14)" font-size="13.3" font-weight="bold" stroke="#000" stroke-width="0.3" text-anchor="middle">2.2:1</text>
<line x1="439.3" y1="574.2" x2="439.3" y2="575.7" stroke="#111" stroke-width="1"/>
<text transform="translate(437.60,592.10) scale(1,1.14)" font-size="13.3" font-weight="bold" stroke="#000" stroke-width="0.3" text-anchor="middle">.75:1</text>
<line x1="489.7" y1="574.2" x2="489.7" y2="575.7" stroke="#111" stroke-width="1"/>
<text transform="translate(488.00,592.10) scale(1,1.14)" font-size="13.3" font-weight="bold" stroke="#000" stroke-width="0.3" text-anchor="middle">.25:1</text>
<text transform="translate(337.90,370.20) scale(1,1.14)" font-size="13.8" font-weight="bold" stroke="#000" stroke-width="0.3">Cultured (14 days)</text>
<text transform="translate(416.35,612.20) scale(1,1.14)" font-size="13.8" font-weight="bold" stroke="#000" stroke-width="0.3" text-anchor="middle">Effector : Target Ratio</text>
<polyline points="339.8,393.5 389.8,435.3 439.3,489.9 489.7,538.3" fill="none" stroke="#000" stroke-width="1.9"/>
<path d="M339.8,391.7 L341.6,394.94 L338.0,394.94 Z" fill="#fff" stroke="#000" stroke-width="1.1"/>
<path d="M389.8,433.5 L391.6,436.74 L388.0,436.74 Z" fill="#fff" stroke="#000" stroke-width="1.1"/>
<path d="M439.3,488.09999999999997 L441.1,491.34 L437.5,491.34 Z" fill="#fff" stroke="#000" stroke-width="1.1"/>
<path d="M489.7,536.5 L491.5,539.74 L487.9,539.74 Z" fill="#fff" stroke="#000" stroke-width="1.1"/>
<polyline points="339.8,395.2 389.8,410.5 439.3,453 489.7,506.2" fill="none" stroke="#000" stroke-width="2.2"/>
<line x1="339.8" y1="389.2" x2="339.8" y2="401.5" stroke="#000" stroke-width="1.4"/>
<line x1="338.8" y1="389.2" x2="340.8" y2="389.2" stroke="#000" stroke-width="1"/>
<line x1="338.8" y1="401.5" x2="340.8" y2="401.5" stroke="#000" stroke-width="1"/>
<line x1="389.8" y1="402" x2="389.8" y2="418.6" stroke="#000" stroke-width="1.4"/>
<line x1="388.8" y1="402" x2="390.8" y2="402" stroke="#000" stroke-width="1"/>
<line x1="388.8" y1="418.6" x2="390.8" y2="418.6" stroke="#000" stroke-width="1"/>
<line x1="439.3" y1="438.5" x2="439.3" y2="469.3" stroke="#000" stroke-width="1.4"/>
<line x1="438.3" y1="438.5" x2="440.3" y2="438.5" stroke="#000" stroke-width="1"/>
<line x1="438.3" y1="469.3" x2="440.3" y2="469.3" stroke="#000" stroke-width="1"/>
<line x1="489.7" y1="491" x2="489.7" y2="522.9" stroke="#000" stroke-width="1.4"/>
<line x1="488.7" y1="491" x2="490.7" y2="491" stroke="#000" stroke-width="1"/>
<line x1="488.7" y1="522.9" x2="490.7" y2="522.9" stroke="#000" stroke-width="1"/>
<circle cx="339.8" cy="395.2" r="3.0" fill="#000"/>
<circle cx="389.8" cy="410.5" r="3.0" fill="#000"/>
<circle cx="439.3" cy="453" r="3.0" fill="#000"/>
<circle cx="489.7" cy="506.2" r="3.0" fill="#000"/>
<polyline points="339.8,405.2 389.8,413.3 439.3,460.2 489.7,510" fill="none" stroke="#000" stroke-width="1.9"/>
<circle cx="339.8" cy="405.2" r="2.6" fill="#fff" stroke="#000" stroke-width="1.2"/>
<circle cx="389.8" cy="413.3" r="2.6" fill="#fff" stroke="#000" stroke-width="1.2"/>
<circle cx="439.3" cy="460.2" r="2.6" fill="#fff" stroke="#000" stroke-width="1.2"/>
<circle cx="489.7" cy="510" r="2.6" fill="#fff" stroke="#000" stroke-width="1.2"/>
<polyline points="339.8,404.6 389.8,424.3 439.3,494 489.7,538.3" fill="none" stroke="#000" stroke-width="1.9"/>
<rect x="337.3" y="402.1" width="5.0" height="5.0" fill="#fff" stroke="#000" stroke-width="1.2"/>
<rect x="387.3" y="421.8" width="5.0" height="5.0" fill="#fff" stroke="#000" stroke-width="1.2"/>
<rect x="436.8" y="491.5" width="5.0" height="5.0" fill="#fff" stroke="#000" stroke-width="1.2"/>
<rect x="487.2" y="535.8" width="5.0" height="5.0" fill="#fff" stroke="#000" stroke-width="1.2"/>
<text transform="translate(15.9,520.1) rotate(-90) scale(1,1.12)" font-size="12.8" font-weight="bold" stroke="#000" stroke-width="0.3">% SPECIFIC LYSIS</text></svg></body></html>
